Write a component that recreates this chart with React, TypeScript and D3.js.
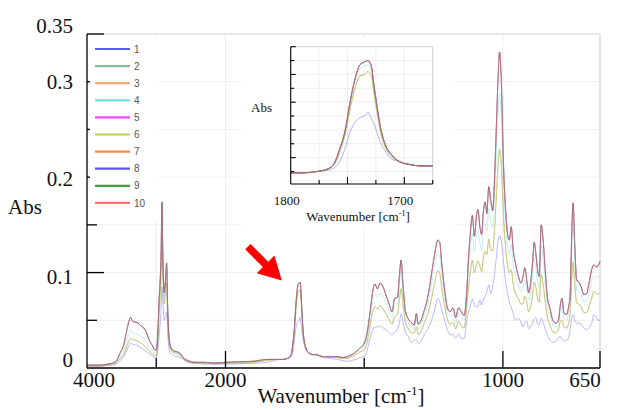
import React from "react";
import * as d3 from "d3";

// FT-IR spectra, wavenumber grid (cm-1) shared by every series
const WAVENUMBER = [
  4000, 3900, 3800, 3700, 3640, 3580, 3520, 3470, 3430, 3390,
  3370, 3340, 3300, 3260, 3220, 3180, 3140, 3100, 3060, 3020,
  3000, 2975, 2960, 2945, 2930, 2918, 2905, 2885, 2865, 2850,
  2835, 2815, 2790, 2750, 2700, 2650, 2600, 2550, 2450, 2300,
  2150, 2000, 1900, 1850, 1800, 1790, 1777, 1767, 1761, 1757,
  1752, 1748, 1743, 1739, 1735, 1732, 1729, 1727, 1724, 1721,
  1717, 1711, 1704, 1695, 1685, 1675, 1650, 1620, 1600, 1580,
  1560, 1545, 1530, 1515, 1500, 1490, 1480, 1470, 1462, 1452,
  1443, 1432, 1420, 1410, 1400, 1390, 1380, 1373, 1367, 1360,
  1352, 1342, 1330, 1320, 1312, 1305, 1295, 1285, 1275, 1265,
  1255, 1245, 1235, 1228, 1220, 1210, 1200, 1190, 1180, 1170,
  1160, 1150, 1140, 1130, 1125, 1118, 1110, 1103, 1095, 1090,
  1083, 1077, 1070, 1064, 1058, 1051, 1044, 1037, 1030, 1024,
  1018, 1012, 1005, 998, 990, 983, 977, 970, 963, 955,
  945, 935, 928, 921, 914, 907, 900, 893, 887, 881,
  875, 869, 862, 855, 848, 840, 830, 820, 810, 800,
  793, 787, 780, 770, 764, 758, 752, 747, 741, 734,
  726, 718, 708, 698, 690, 680, 672, 663, 655, 650,
];

// strongest samples (5, 7, 8, 9, 10)
const ABS_TOP = [
  0.003, 0.003, 0.003, 0.004, 0.005, 0.007, 0.016, 0.024, 0.038, 0.050,
  0.053, 0.049, 0.048, 0.047, 0.044, 0.042, 0.037, 0.029, 0.024, 0.019,
  0.019, 0.040, 0.070, 0.090, 0.120, 0.174, 0.120, 0.079, 0.095, 0.110,
  0.064, 0.032, 0.022, 0.018, 0.017, 0.015, 0.010, 0.008, 0.006, 0.006,
  0.005, 0.006, 0.007, 0.009, 0.009, 0.009, 0.010, 0.012, 0.017, 0.026,
  0.040, 0.059, 0.078, 0.087, 0.089, 0.090, 0.086, 0.074, 0.057, 0.042,
  0.030, 0.022, 0.017, 0.015, 0.014, 0.014, 0.012, 0.012, 0.012, 0.011,
  0.012, 0.014, 0.017, 0.021, 0.026, 0.036, 0.056, 0.079, 0.088, 0.083,
  0.089, 0.085, 0.075, 0.067, 0.059, 0.073, 0.074, 0.097, 0.113, 0.087,
  0.061, 0.052, 0.048, 0.045, 0.057, 0.046, 0.050, 0.059, 0.069, 0.084,
  0.103, 0.121, 0.134, 0.132, 0.108, 0.082, 0.063, 0.059, 0.063, 0.053,
  0.063, 0.059, 0.055, 0.082, 0.110, 0.139, 0.160, 0.138, 0.160, 0.166,
  0.148, 0.140, 0.165, 0.174, 0.162, 0.190, 0.176, 0.165, 0.200, 0.250,
  0.300, 0.331, 0.295, 0.215, 0.165, 0.140, 0.134, 0.148, 0.124, 0.110,
  0.097, 0.089, 0.095, 0.105, 0.092, 0.079, 0.089, 0.111, 0.132, 0.119,
  0.103, 0.096, 0.150, 0.134, 0.105, 0.075, 0.062, 0.050, 0.047, 0.050,
  0.066, 0.073, 0.058, 0.056, 0.063, 0.075, 0.140, 0.173, 0.130, 0.092,
  0.090, 0.085, 0.077, 0.078, 0.088, 0.103, 0.108, 0.106, 0.108, 0.112,
];

// sample 4
const ABS_UPPER = [
  0.003, 0.003, 0.003, 0.004, 0.004, 0.006, 0.012, 0.018, 0.028, 0.037,
  0.040, 0.037, 0.036, 0.035, 0.033, 0.031, 0.027, 0.022, 0.019, 0.015,
  0.015, 0.037, 0.064, 0.083, 0.111, 0.161, 0.113, 0.075, 0.089, 0.102,
  0.060, 0.030, 0.021, 0.017, 0.016, 0.014, 0.010, 0.008, 0.006, 0.005,
  0.005, 0.005, 0.007, 0.009, 0.009, 0.009, 0.010, 0.012, 0.016, 0.025,
  0.039, 0.057, 0.076, 0.084, 0.086, 0.087, 0.083, 0.072, 0.056, 0.041,
  0.029, 0.021, 0.017, 0.015, 0.014, 0.014, 0.012, 0.012, 0.012, 0.011,
  0.011, 0.013, 0.016, 0.019, 0.023, 0.032, 0.050, 0.070, 0.078, 0.074,
  0.079, 0.076, 0.067, 0.060, 0.054, 0.065, 0.067, 0.086, 0.101, 0.078,
  0.056, 0.048, 0.043, 0.041, 0.051, 0.041, 0.045, 0.054, 0.062, 0.075,
  0.092, 0.108, 0.121, 0.118, 0.097, 0.075, 0.058, 0.054, 0.057, 0.048,
  0.057, 0.053, 0.050, 0.075, 0.099, 0.123, 0.141, 0.122, 0.139, 0.144,
  0.131, 0.124, 0.145, 0.152, 0.144, 0.167, 0.154, 0.147, 0.178, 0.220,
  0.263, 0.289, 0.259, 0.192, 0.149, 0.126, 0.120, 0.130, 0.109, 0.097,
  0.087, 0.080, 0.084, 0.092, 0.083, 0.071, 0.079, 0.097, 0.114, 0.104,
  0.090, 0.085, 0.128, 0.115, 0.091, 0.066, 0.055, 0.045, 0.043, 0.046,
  0.059, 0.064, 0.052, 0.050, 0.056, 0.067, 0.121, 0.147, 0.112, 0.082,
  0.081, 0.076, 0.069, 0.070, 0.078, 0.091, 0.097, 0.095, 0.095, 0.098,
];

// samples 2, 3, 6
const ABS_MID = [
  0.002, 0.002, 0.002, 0.003, 0.004, 0.005, 0.010, 0.014, 0.022, 0.029,
  0.031, 0.030, 0.029, 0.028, 0.026, 0.024, 0.021, 0.018, 0.015, 0.013,
  0.013, 0.032, 0.055, 0.072, 0.097, 0.138, 0.100, 0.067, 0.079, 0.089,
  0.053, 0.027, 0.019, 0.016, 0.015, 0.013, 0.009, 0.007, 0.005, 0.005,
  0.005, 0.005, 0.006, 0.008, 0.009, 0.009, 0.010, 0.012, 0.016, 0.024,
  0.037, 0.054, 0.071, 0.079, 0.080, 0.082, 0.079, 0.068, 0.053, 0.039,
  0.028, 0.021, 0.017, 0.015, 0.014, 0.014, 0.012, 0.011, 0.011, 0.010,
  0.010, 0.012, 0.014, 0.017, 0.019, 0.026, 0.042, 0.058, 0.064, 0.062,
  0.065, 0.062, 0.056, 0.051, 0.046, 0.054, 0.056, 0.071, 0.083, 0.066,
  0.049, 0.042, 0.037, 0.037, 0.043, 0.035, 0.038, 0.046, 0.053, 0.063,
  0.076, 0.090, 0.102, 0.099, 0.083, 0.065, 0.051, 0.046, 0.048, 0.041,
  0.049, 0.044, 0.042, 0.065, 0.082, 0.099, 0.113, 0.100, 0.109, 0.112,
  0.107, 0.101, 0.116, 0.122, 0.119, 0.135, 0.124, 0.123, 0.146, 0.178,
  0.211, 0.229, 0.208, 0.160, 0.125, 0.107, 0.100, 0.103, 0.088, 0.078,
  0.073, 0.067, 0.067, 0.075, 0.069, 0.059, 0.065, 0.077, 0.090, 0.084,
  0.073, 0.069, 0.098, 0.088, 0.071, 0.054, 0.045, 0.038, 0.037, 0.040,
  0.049, 0.050, 0.043, 0.042, 0.046, 0.056, 0.093, 0.111, 0.088, 0.068,
  0.067, 0.064, 0.058, 0.058, 0.064, 0.073, 0.080, 0.078, 0.077, 0.079,
];

// sample 1
const ABS_LOW = [
  0.002, 0.002, 0.002, 0.003, 0.003, 0.004, 0.008, 0.012, 0.018, 0.024,
  0.026, 0.025, 0.024, 0.023, 0.021, 0.019, 0.017, 0.015, 0.013, 0.011,
  0.011, 0.020, 0.032, 0.045, 0.062, 0.085, 0.070, 0.050, 0.054, 0.058,
  0.036, 0.020, 0.015, 0.013, 0.012, 0.011, 0.008, 0.006, 0.005, 0.004,
  0.004, 0.004, 0.005, 0.006, 0.009, 0.009, 0.010, 0.011, 0.013, 0.017,
  0.027, 0.038, 0.046, 0.049, 0.050, 0.053, 0.048, 0.045, 0.038, 0.031,
  0.025, 0.019, 0.017, 0.015, 0.014, 0.014, 0.011, 0.010, 0.009, 0.008,
  0.007, 0.008, 0.009, 0.011, 0.012, 0.018, 0.030, 0.040, 0.043, 0.043,
  0.044, 0.042, 0.040, 0.037, 0.035, 0.038, 0.040, 0.048, 0.057, 0.048,
  0.038, 0.033, 0.027, 0.029, 0.030, 0.025, 0.028, 0.034, 0.039, 0.044,
  0.052, 0.062, 0.073, 0.070, 0.060, 0.050, 0.040, 0.035, 0.035, 0.031,
  0.036, 0.031, 0.031, 0.050, 0.058, 0.064, 0.072, 0.066, 0.064, 0.065,
  0.071, 0.066, 0.072, 0.075, 0.080, 0.087, 0.078, 0.085, 0.099, 0.115,
  0.132, 0.139, 0.131, 0.112, 0.090, 0.078, 0.069, 0.064, 0.057, 0.050,
  0.052, 0.048, 0.043, 0.048, 0.049, 0.041, 0.044, 0.047, 0.052, 0.053,
  0.046, 0.045, 0.052, 0.048, 0.041, 0.035, 0.029, 0.027, 0.028, 0.032,
  0.033, 0.030, 0.029, 0.029, 0.031, 0.040, 0.052, 0.056, 0.050, 0.047,
  0.047, 0.046, 0.042, 0.040, 0.042, 0.047, 0.056, 0.053, 0.050, 0.050,
];

const SERIES_NAMES = ["1", "2", "3", "4", "5", "6", "7", "8", "9", "10"];
const SERIES_COLORS = [
  "#3b3bff", "#6db58e", "#ff9955", "#55d8d8", "#ff22ff",
  "#aacc33", "#ff7020", "#3b3bff", "#228b22", "#ff5a5a",
];
const SERIES_DATA = [
  ABS_LOW, ABS_MID, ABS_MID, ABS_UPPER, ABS_TOP,
  ABS_MID, ABS_TOP, ABS_TOP, ABS_TOP, ABS_TOP,
];

const X_TICKS = [4000, 3000, 2000, 1500, 1000, 650];
const X_LABELS = [4000, 2000, 1000, 650];
const Y_TICKS = [0.05, 0.1, 0.15, 0.2, 0.25, 0.3, 0.35];
const Y_LABELS = [0, 0.1, 0.2, 0.3, 0.35];
const INSET_X_TICKS = [1775, 1750, 1725, 1700, 1675];
const INSET_X_LABELS = [1800, 1700];
const INSET_Y_TICKS = [0.01, 0.02, 0.03, 0.04, 0.05, 0.06, 0.07, 0.08, 0.09, 0.1];
const CARBONYL_WN = 1732;

const W = 617;
const H = 410;
const SERIF = "'Liberation Serif', 'Times New Roman', serif";

export default function App() {
  // main plot, x axis expanded below 2000 cm-1
  const x = d3.scaleLinear().domain([4000, 2000, 650]).range([87, 225.5, 600]);
  const y = d3.scaleLinear().domain([0, 0.35]).range([368, 34]);

  // inset, carbonyl band
  const ix = d3.scaleLinear().domain([1800, 1675]).range([290.7, 432.7]);
  const iy = d3.scaleLinear().domain([0.001, 0.1]).range([184, 46.7]);

  const line = d3
    .line<number>()
    .x((d, i) => x(WAVENUMBER[i]))
    .y((d) => y(d))
    .curve(d3.curveMonotoneX);

  const insetLine = d3
    .line<number>()
    .x((d, i) => ix(WAVENUMBER[i]))
    .y((d) => iy(d))
    .curve(d3.curveMonotoneX);

  // hand-placed label nudges, as in the original figure
  const yLabelShift = (v: number) =>
    v === 0 ? -8 : v === 0.35 ? -8 : v === 0.1 ? 4 : v === 0.2 ? 2 : 0;
  const xLabelShift = (v: number) => (v === 4000 ? 7 : v === 650 ? -15 : 0);

  // red arrow pointing at the carbonyl peak
  const peakIdx = WAVENUMBER.indexOf(CARBONYL_WN);
  const tipX = x(CARBONYL_WN) - 18;
  const tipY = y(ABS_TOP[peakIdx]) - 1.5;
  const dv = [Math.SQRT1_2, Math.SQRT1_2];
  const pv = [Math.SQRT1_2, -Math.SQRT1_2];
  const pt = (back: number, side: number) =>
    `${tipX - back * dv[0] + side * pv[0]},${tipY - back * dv[1] + side * pv[1]}`;
  const arrow = [
    pt(0, 0), pt(23, 12.5), pt(23, 3.8), pt(48, 3.8),
    pt(48, -3.8), pt(23, -3.8), pt(23, -12.5),
  ].join(" ");

  return (
    <svg
      width={W}
      height={H}
      style={{ position: "absolute", left: 0, top: 0, background: "#fff" }}
    >
      <rect width={W} height={H} fill="#fff" />
      <defs>
        <clipPath id="insetClip">
          <rect x={290.7} y={46.7} width={142} height={137.3} />
        </clipPath>
      </defs>

      {/* faint grid */}
      <g stroke="#eeeeee" strokeWidth={1}>
        {Y_TICKS.slice(0, -1).map((t) => (
          <line key={"gy" + t} x1={87} x2={600} y1={y(t)} y2={y(t)} />
        ))}
        {X_TICKS.slice(1, -1).map((t) => (
          <line key={"gx" + t} x1={x(t)} x2={x(t)} y1={34} y2={368} />
        ))}
      </g>
      <line x1={87} x2={600} y1={34} y2={34} stroke="#d2d2d2" />
      <line x1={600} x2={600} y1={34} y2={368} stroke="#cccccc" />

      {/* spectra */}
      <g fill="none" strokeWidth={0.7} strokeOpacity={0.5}>
        {SERIES_DATA.map((s, i) => (
          <path key={"s" + i} d={line(s) || ""} stroke={SERIES_COLORS[i]} />
        ))}
      </g>

      {/* axes */}
      <g stroke="#000" strokeWidth={1.3}>
        <line x1={87} x2={87} y1={34} y2={368} />
        <line x1={87} x2={600} y1={368} y2={368} />
        {Y_TICKS.map((t) => (
          <line
            key={"ty" + t}
            x1={87}
            x2={87 + (Math.abs((t * 10) % 1) < 1e-6 || t === 0.35 ? 17 : 10)}
            y1={y(t)}
            y2={y(t)}
          />
        ))}
        {X_TICKS.slice(1).map((t) => (
          <line
            key={"tx" + t}
            x1={x(t)}
            x2={x(t)}
            y1={368}
            y2={368 - (X_LABELS.includes(t) ? 17 : 10)}
          />
        ))}
      </g>

      {/* legend */}
      <rect x={90} y={37} width={68} height={184} fill="#fff" />
      {SERIES_NAMES.map((n, i) => {
        const ly = 49 + i * 17.1;
        return (
          <g key={"lg" + n}>
            <line x1={95} x2={130} y1={ly} y2={ly} stroke={SERIES_COLORS[i]} strokeWidth={2.2} strokeOpacity={0.85} />
            <text x={134} y={ly + 3.6} fontSize={10} fill="#555" fontFamily="'Liberation Sans', Arial, sans-serif">
              {n}
            </text>
          </g>
        );
      })}

      {/* tick labels */}
      <g fontFamily={SERIF} fontSize={21} fill="#111">
        {Y_LABELS.map((v) => (
          <text key={"ly" + v} x={73} y={y(v) + yLabelShift(v) + 7} textAnchor="end">
            {String(v)}
          </text>
        ))}
        {X_LABELS.map((v) => (
          <text key={"lx" + v} x={x(v) + xLabelShift(v)} y={387} textAnchor="middle">
            {String(v)}
          </text>
        ))}
        <text x={8} y={214}>Abs</text>
        <text x={341} y={403} textAnchor="middle">
          Wavenumber [cm<tspan dy={-8} fontSize={13}>-1</tspan>
          <tspan dy={8}>]</tspan>
        </text>
      </g>

      {/* inset */}
      <rect x={242} y={38} width={212} height={188} fill="#fff" />
      <g stroke="#eeeeee">
        {INSET_Y_TICKS.slice(0, -1).map((t) => (
          <line key={"igy" + t} x1={290.7} x2={432.7} y1={iy(t)} y2={iy(t)} />
        ))}
        {INSET_X_TICKS.slice(0, -1).map((t) => (
          <line key={"igx" + t} x1={ix(t)} x2={ix(t)} y1={46.7} y2={184} />
        ))}
      </g>
      <line x1={290.7} x2={432.7} y1={46.7} y2={46.7} stroke="#d2d2d2" />
      <line x1={432.7} x2={432.7} y1={46.7} y2={184} stroke="#cccccc" />
      <g fill="none" strokeWidth={0.8} strokeOpacity={0.5} clipPath="url(#insetClip)">
        {SERIES_DATA.map((s, i) => (
          <path key={"is" + i} d={insetLine(s) || ""} stroke={SERIES_COLORS[i]} />
        ))}
      </g>
      <g stroke="#000" strokeWidth={1.1}>
        <line x1={290.7} x2={290.7} y1={46.7} y2={184} />
        <line x1={290.7} x2={432.7} y1={184} y2={184} />
        {INSET_Y_TICKS.map((t, i) => (
          <line key={"ity" + t} x1={290.7} x2={290.7 + (i % 2 === 1 ? 5 : 3.5)} y1={iy(t)} y2={iy(t)} />
        ))}
        {INSET_X_TICKS.map((t, i) => (
          <line key={"itx" + t} x1={ix(t)} x2={ix(t)} y1={184} y2={184 - (i % 2 === 1 ? 7 : 4)} />
        ))}
      </g>
      <g fontFamily={SERIF} fontSize={13} fill="#111">
        {INSET_X_LABELS.map((v) => (
          <text key={"ilx" + v} x={ix(v) - 4} y={205} textAnchor="middle">
            {String(v)}
          </text>
        ))}
        <text x={251} y={111.5}>Abs</text>
        <text x={358} y={221} textAnchor="middle">
          Wavenumber [cm<tspan dy={-5} fontSize={8}>-1</tspan>
          <tspan dy={5}>]</tspan>
        </text>
      </g>

      <polygon points={arrow} fill="#ff0000" />
    </svg>
  );
}
